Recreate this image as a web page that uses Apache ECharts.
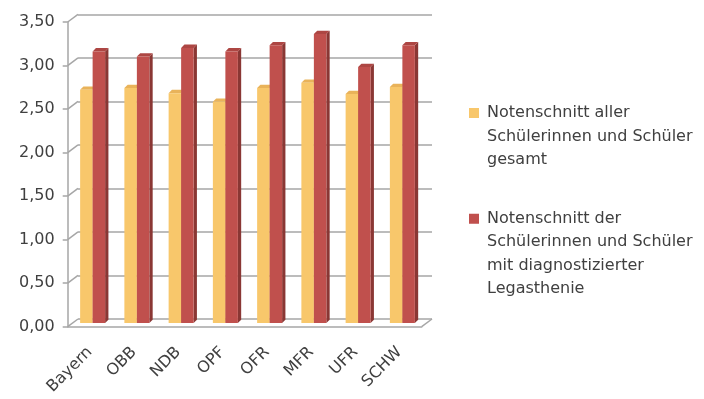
<!DOCTYPE html>
<html>
<head>
<meta charset="utf-8">
<script src="https://cdn.jsdelivr.net/npm/echarts@6/dist/echarts.min.js"></script>
<style>
  html, body { margin: 0; padding: 0; background: #fff; }
  #chart { width: 704px; height: 399px; }
</style>
</head>
<body>
<div id="chart"></div>
<script>
var categories = ["Bayern", "OBB", "NDB", "OPF", "OFR", "MFR", "UFR", "SCHW"];
var gesamt = [2.68, 2.70, 2.64, 2.54, 2.70, 2.76, 2.63, 2.71];
var legasthenie = [3.12, 3.06, 3.16, 3.12, 3.19, 3.32, 2.94, 3.19];
var yTicks = [0, 0.5, 1, 1.5, 2, 2.5, 3, 3.5];

var nameGesamt = "Notenschnitt aller\nSchülerinnen und Schüler\ngesamt";
var nameLeg = "Notenschnitt der\nSchülerinnen und Schüler\nmit diagnostizierter\nLegasthenie";

var FONT = "DejaVu Sans";
var GRID_LINE = "#a6a6a6";
var DX = 10.3, DY = -7.7;     // depth of the wall/floor
var BW = 12.5, BD = 3.3;       // bar width, bar depth
var LH = 23.5;                 // legend line height

var myChart = echarts.init(document.getElementById("chart"));

// legend marker: square next to the first text line of a tall item
function legendIcon(lines) {
  var h = lines * LH;
  var t = LH / 2 - 5;
  return "path://M0,0h0.01v0.01h-0.01Z M0," + t + "h10v10h-10Z M0," + (h - 0.01) + "h0.01v0.01h-0.01Z";
}

// 3D-ish column built with the grid's own coordinates
function bar3d(colors, side) {
  return function (params, api) {
    var top = api.coord([api.value(0), api.value(1)]);
    var base = api.coord([api.value(0), 0]);
    var x0 = side < 0 ? top[0] - BW : top[0];
    var x1 = x0 + BW;
    var y0 = top[1], y1 = base[1];
    return {
      type: "group",
      children: [
        { type: "polygon", shape: { points: [[x1, y0], [x1 + BD, y0 - BD], [x1 + BD, y1 - BD], [x1, y1]] },
          style: { fill: colors.side } },
        { type: "polygon", shape: { points: [[x0, y0], [x1, y0], [x1 + BD, y0 - BD], [x0 + BD, y0 - BD]] },
          style: { fill: colors.top } },
        { type: "rect", shape: { x: x0, y: y0, width: BW, height: y1 - y0 },
          style: { fill: colors.front } }
      ]
    };
  };
}

// side-wall diagonals from the front axis to the back wall
function wallLines(params, api) {
  var cs = params.coordSys;
  var y = api.coord([0, api.value(1)])[1];
  var children = [
    { type: "line", shape: { x1: cs.x, y1: y, x2: cs.x + DX, y2: y + DY },
      style: { stroke: GRID_LINE, lineWidth: 1.5 } }
  ];
  if (api.value(1) === 0) {
    children.push({ type: "line",
      shape: { x1: cs.x + cs.width, y1: y, x2: cs.x + cs.width + DX, y2: y + DY },
      style: { stroke: GRID_LINE, lineWidth: 1.5 } });
  }
  return { type: "group", children: children };
}

var valAxisBase = { type: "value", min: 0, max: 3.5, interval: 0.5 };
var legendText = { fontSize: 16, lineHeight: LH, color: "#404040", fontFamily: FONT, padding: [0, 0, 0, 3] };

myChart.setOption({
  animation: false,
  textStyle: { fontFamily: FONT },
  grid: [
    { left: 67.7, right: 282.3, top: 22, bottom: 72.3 },   // front
    { left: 78, right: 272, top: 14.3, bottom: 80 },        // back wall
    { left: 70.5, right: 279.5, top: 18.3, bottom: 76 }     // bars
  ],
  xAxis: [
    { type: "category", gridIndex: 0, data: categories,
      axisLine: { lineStyle: { color: GRID_LINE, width: 1.5 } },
      axisTick: { length: 5, lineStyle: { color: GRID_LINE, width: 1.5 } },
      axisLabel: { rotate: 45, margin: 23, color: "#404040", fontSize: 16, fontFamily: FONT } },
    { type: "category", gridIndex: 1, data: categories, show: false },
    { type: "category", gridIndex: 2, data: categories, show: false }
  ],
  yAxis: [
    Object.assign({}, valAxisBase, { gridIndex: 0,
      axisLine: { show: true, lineStyle: { color: GRID_LINE, width: 1.5 } },
      axisTick: { show: true, length: 5, lineStyle: { color: GRID_LINE, width: 1.5 } },
      splitLine: { show: false },
      axisLabel: { margin: 13, color: "#404040", fontSize: 16, fontFamily: FONT,
        formatter: function (v) { return v.toFixed(2).replace(".", ","); } } }),
    Object.assign({}, valAxisBase, { gridIndex: 1,
      axisLine: { show: false }, axisTick: { show: false }, axisLabel: { show: false },
      splitLine: { show: true, lineStyle: { color: GRID_LINE, width: 1.5 } } }),
    Object.assign({}, valAxisBase, { gridIndex: 2, show: false, splitLine: { show: false } })
  ],
  legend: [
    { data: [{ name: nameGesamt, icon: legendIcon(3) }], left: 469, top: 101.3, padding: 0,
      itemWidth: 10, itemHeight: 3 * LH, symbolKeepAspect: false, selectedMode: false,
      textStyle: legendText },
    { data: [{ name: nameLeg, icon: legendIcon(4) }], left: 469, top: 207, padding: 0,
      itemWidth: 10, itemHeight: 4 * LH, symbolKeepAspect: false, selectedMode: false,
      textStyle: legendText }
  ],
  series: [
    { type: "custom", name: "wall", xAxisIndex: 0, yAxisIndex: 0, silent: true,
      data: yTicks.map(function (v) { return [0, v]; }),
      encode: { x: 0, y: 1 }, renderItem: wallLines },
    { type: "custom", name: nameGesamt, xAxisIndex: 2, yAxisIndex: 2,
      itemStyle: { color: "#F8C76B" },
      data: gesamt.map(function (v, i) { return [i, v]; }),
      encode: { x: 0, y: 1 },
      renderItem: bar3d({ front: "#F8C76B", side: "#D9A54A", top: "#E9B35A" }, -1) },
    { type: "custom", name: nameLeg, xAxisIndex: 2, yAxisIndex: 2,
      itemStyle: { color: "#C0504D" },
      data: legasthenie.map(function (v, i) { return [i, v]; }),
      encode: { x: 0, y: 1 },
      renderItem: bar3d({ front: "#C0504D", side: "#8A3734", top: "#AD4643" }, 1) }
  ]
});
</script>
</body>
</html>
